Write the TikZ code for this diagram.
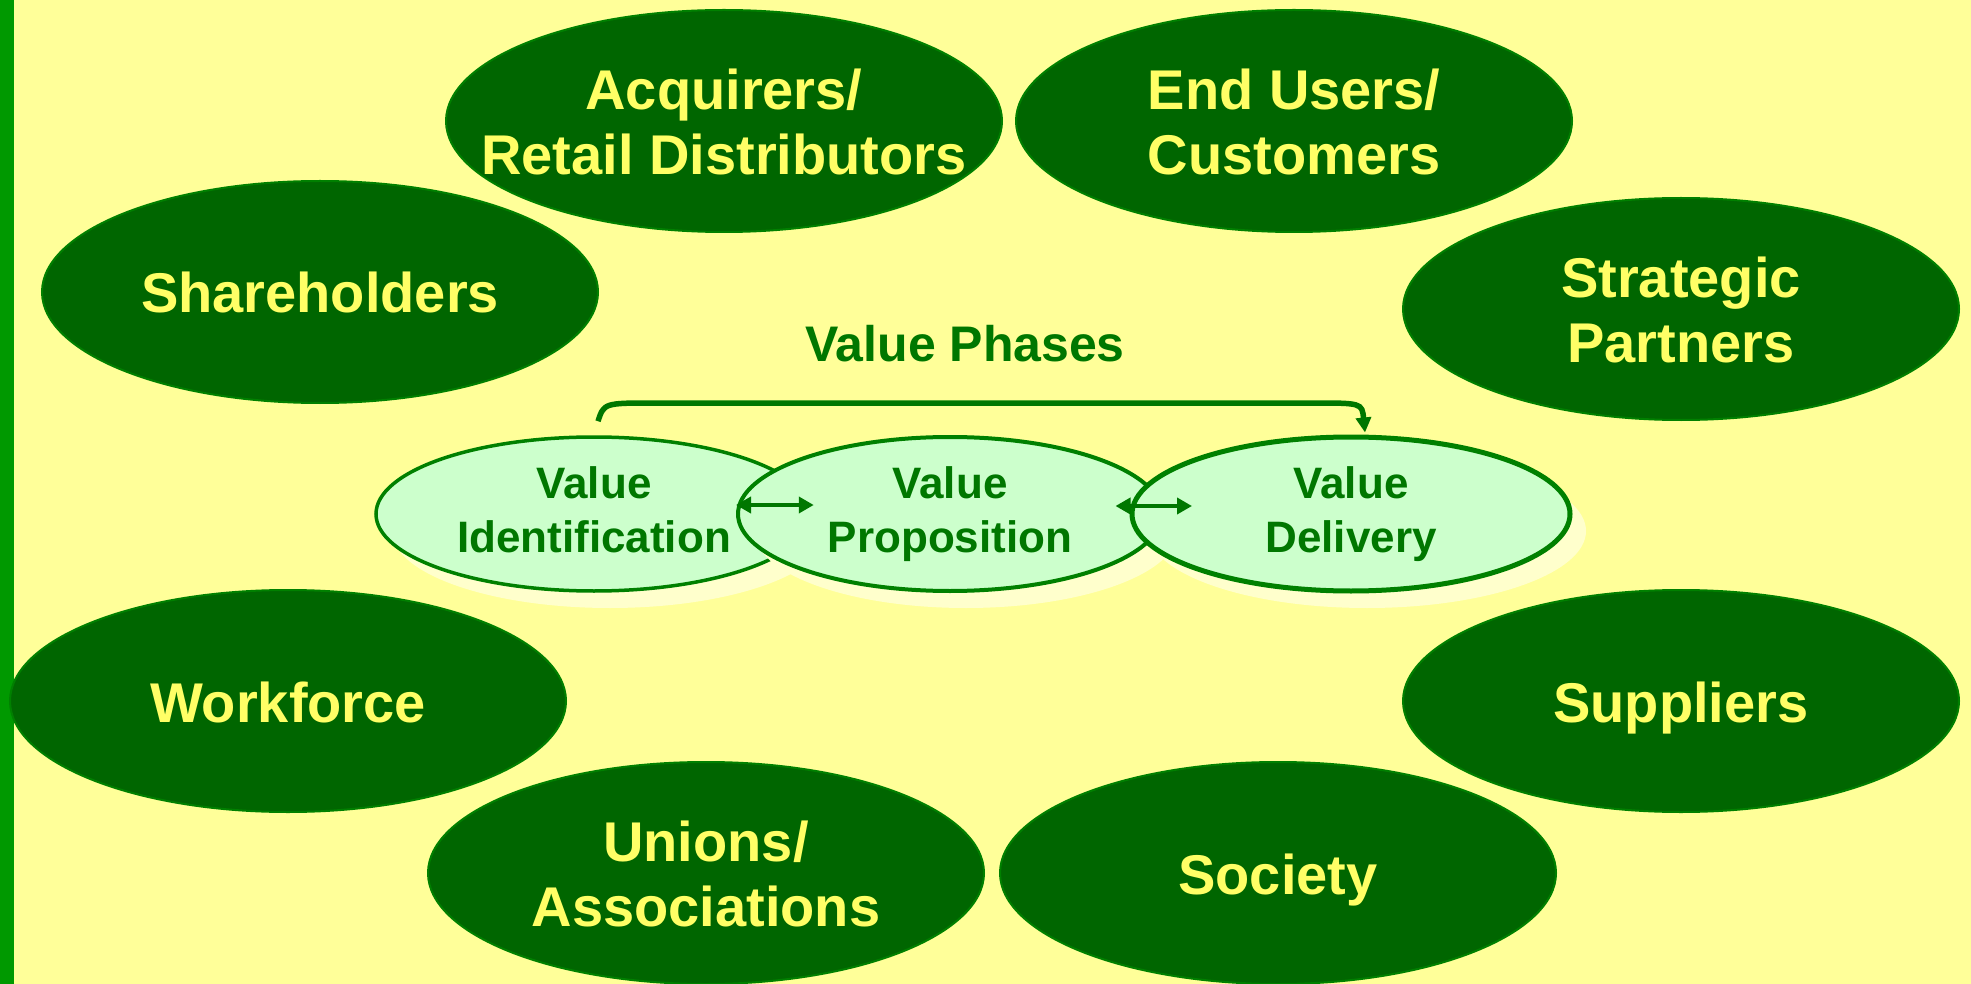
\documentclass[tikz,border=0pt]{standalone}
\usepackage{fontspec}
\setmainfont{Liberation Sans}
\usetikzlibrary{shapes.geometric,arrows.meta}
\definecolor{bgyellow}{HTML}{FFFF99}
\definecolor{barGreen}{HTML}{009900}
\definecolor{dkgreen}{HTML}{006600}
\definecolor{bordgreen}{HTML}{008000}
\definecolor{txtyellow}{HTML}{FFFF66}
\definecolor{paleGreen}{HTML}{CCFFCC}
\definecolor{midgreen}{HTML}{007700}
\definecolor{shadowYellow}{HTML}{FFFFCC}
\newcommand\bigfont{\fontsize{56}{65}\selectfont\bfseries}
\newcommand\smallfont{\fontsize{44}{54}\selectfont\bfseries}
\newcommand\phasefont{\fontsize{50}{60}\selectfont\bfseries}
\tikzset{
  bigell/.style={ellipse, fill=dkgreen, draw=bordgreen, line width=2pt, minimum width=556pt, minimum height=222pt, inner sep=0pt},
  bigtext/.style={text=txtyellow, font=\bigfont, align=center, inner sep=0pt},
  smallell/.style={ellipse, fill=paleGreen, draw=bordgreen, line width=4.5pt, minimum width=436pt, minimum height=154pt, inner sep=0pt},
  shadowell/.style={ellipse, fill=shadowYellow, minimum width=436pt, minimum height=154pt, inner sep=0pt},
  smalltext/.style={text=midgreen, font=\smallfont, align=center, inner sep=0pt},
  linkarrow/.style={draw=midgreen, line width=4.5pt, {Triangle[length=15pt,width=16pt]}-{Triangle[length=15pt,width=16pt]}},
  phasearrow/.style={draw=midgreen, line width=5.5pt, -{Triangle[length=15pt,width=15pt]}}
}
\begin{document}
\begin{tikzpicture}[x=1pt,y=-1pt]
\fill[bgyellow] (0,0) rectangle (1971,984);
\useasboundingbox (0,0) rectangle (1971,984);
\fill[barGreen] (0,0) rectangle (14,984);

% stakeholder ellipses
\node[bigell] (acq) at (724,121) {};
\node[bigtext] (acqT) at ([yshift=-8pt]acq.center) {Acquirers/\strut\\Retail Distributors\strut};
\node[bigell] (end) at (1294,121) {};
\node[bigtext] (endT) at ([yshift=-8pt]end.center) {End Users/\strut\\Customers\strut};
\node[bigell] (sha) at (320,292) {};
\node[bigtext] (shaT) at ([yshift=-8pt]sha.center) {Shareholders\strut};
\node[bigell] (str) at (1681,309) {};
\node[bigtext] (strT) at ([yshift=-8pt]str.center) {Strategic\strut\\Partners\strut};
\node[bigell] (wor) at (288,701) {};
\node[bigtext] (worT) at ([yshift=-8pt]wor.center) {Workforce\strut};
\node[bigell] (sup) at (1681,701) {};
\node[bigtext] (supT) at ([yshift=-8pt]sup.center) {Suppliers\strut};
\node[bigell] (uni) at (706,873) {};
\node[bigtext] (uniT) at ([yshift=-8pt]uni.center) {Unions/\strut\\Associations\strut};
\node[bigell] (soc) at (1278,873) {};
\node[bigtext] (socT) at ([yshift=-8pt]soc.center) {Society\strut};

% value phases
\node[text=midgreen, font=\phasefont, inner sep=0pt] (phases) at (965,344) {Value Phases};

\node[shadowell] (viS) at (610,531) {};
\node[smallell, line width=3.5pt] (vi) at (594,514) {};
\node[smalltext] (viT) at ([yshift=-1pt]vi.center) {Value\strut\\Identification\strut};
\node[shadowell, minimum width=424pt] (vpS) at (966,531) {};
\node[smallell, minimum width=424pt, line width=4pt] (vp) at (950,514) {};
\node[smalltext] (vpT) at ([yshift=-1pt]vp.center) {Value\strut\\Proposition\strut};
\node[shadowell, minimum width=438pt] (vdS) at (1367,531) {};
\node[smallell, minimum width=438pt, line width=5pt] (vd) at (1351,514) {};
\node[smalltext] (vdT) at ([yshift=-1pt]vd.center) {Value\strut\\Delivery\strut};

\draw[linkarrow] ([yshift=9pt]vp.west) -- ([yshift=9pt]vi.east);
\draw[linkarrow] ([xshift=-14pt,yshift=8pt]vd.west) -- ([xshift=28pt,yshift=8pt]vp.east);

\coordinate (cs) at ([xshift=4pt,yshift=14pt]vi.north);
\coordinate (ce) at ([xshift=14pt,yshift=2pt]vd.north);
\draw[phasearrow] (cs) .. controls (604,403) .. (655,403) -- (1312,403) .. controls (1362,403) .. (ce);
\end{tikzpicture}
\end{document}
